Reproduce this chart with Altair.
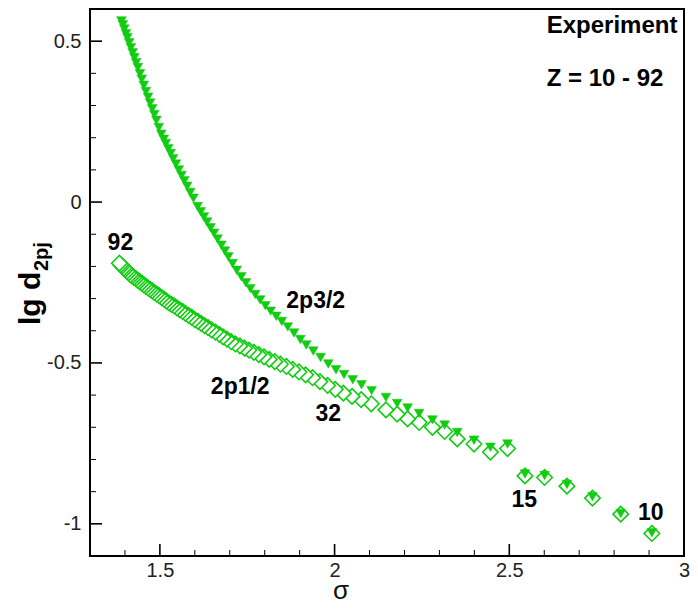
import altair as alt
import pandas as pd

# ---- data (Z = 10 ... 92) ----
sigma_2p12 = [2.908, 2.819, 2.738, 2.665, 2.601, 2.545, 2.495, 2.446, 2.399, 2.351,
              2.315, 2.280, 2.242, 2.209, 2.179, 2.147, 2.105, 2.076, 2.050, 2.025,
              2.002, 1.980, 1.958, 1.937, 1.917, 1.898, 1.880, 1.862, 1.845, 1.829,
              1.813, 1.798, 1.783, 1.769, 1.755, 1.742, 1.729, 1.716, 1.704, 1.692,
              1.681, 1.670, 1.659, 1.648, 1.638, 1.628, 1.618, 1.609, 1.600, 1.591,
              1.582, 1.573, 1.565, 1.557, 1.549, 1.541, 1.533, 1.526, 1.519, 1.512,
              1.505, 1.498, 1.491, 1.484, 1.478, 1.472, 1.466, 1.460, 1.454, 1.448,
              1.442, 1.437, 1.431, 1.426, 1.421, 1.416, 1.411, 1.406, 1.401, 1.397,
              1.392, 1.388, 1.384]
lgd_2p12 = [-1.030, -0.970, -0.920, -0.883, -0.856, -0.851, -0.766, -0.777, -0.752, -0.736,
            -0.713, -0.700, -0.685, -0.674, -0.659, -0.646, -0.627, -0.614, -0.604, -0.594,
            -0.582, -0.570, -0.558, -0.546, -0.537, -0.528, -0.520, -0.511, -0.504, -0.496,
            -0.489, -0.481, -0.474, -0.467, -0.460, -0.454, -0.447, -0.441, -0.434, -0.426,
            -0.419, -0.411, -0.404, -0.397, -0.390, -0.384, -0.377, -0.371, -0.365, -0.358,
            -0.352, -0.346, -0.340, -0.335, -0.329, -0.323, -0.318, -0.313, -0.308, -0.302,
            -0.297, -0.291, -0.286, -0.281, -0.276, -0.271, -0.267, -0.262, -0.257, -0.252,
            -0.247, -0.243, -0.238, -0.234, -0.230, -0.226, -0.220, -0.215, -0.209, -0.205,
            -0.199, -0.195, -0.190]

sigma_2p32 = [2.908, 2.819, 2.738, 2.665, 2.601, 2.545, 2.495, 2.446, 2.399, 2.351,
              2.315, 2.280, 2.242, 2.209, 2.179, 2.147, 2.106, 2.077, 2.052, 2.027,
              2.004, 1.982, 1.960, 1.939, 1.919, 1.902, 1.884, 1.866, 1.849, 1.833,
              1.817, 1.802, 1.787, 1.773, 1.759, 1.746, 1.733, 1.720, 1.708, 1.696,
              1.686, 1.676, 1.665, 1.655, 1.645, 1.635, 1.626, 1.617, 1.608, 1.596,
              1.587, 1.578, 1.570, 1.562, 1.554, 1.546, 1.538, 1.531, 1.524, 1.517,
              1.511, 1.504, 1.497, 1.490, 1.484, 1.478, 1.472, 1.466, 1.460, 1.454,
              1.448, 1.443, 1.437, 1.432, 1.427, 1.422, 1.417, 1.412, 1.407, 1.403,
              1.398, 1.394, 1.390]
lgd_2p32 = [-1.028, -0.968, -0.916, -0.878, -0.850, -0.845, -0.752, -0.762, -0.740, -0.716,
            -0.693, -0.677, -0.657, -0.640, -0.626, -0.607, -0.586, -0.568, -0.552, -0.536,
            -0.521, -0.503, -0.483, -0.463, -0.444, -0.427, -0.407, -0.388, -0.371, -0.355,
            -0.339, -0.322, -0.304, -0.287, -0.269, -0.251, -0.232, -0.212, -0.191, -0.170,
            -0.152, -0.134, -0.115, -0.097, -0.080, -0.062, -0.046, -0.030, -0.014, 0.012,
            0.030, 0.049, 0.066, 0.083, 0.100, 0.118, 0.135, 0.151, 0.166, 0.182,
            0.195, 0.211, 0.232, 0.254, 0.272, 0.290, 0.308, 0.326, 0.344, 0.363,
            0.382, 0.399, 0.418, 0.433, 0.449, 0.464, 0.480, 0.495, 0.511, 0.523,
            0.538, 0.551, 0.563]

# annotations (text, sigma, lg)
ann_text = ["92", "2p3/2", "2p1/2", "32", "15", "10"]
ann_sigma = [1.387, 1.946, 1.730, 1.982, 2.543, 2.905]
ann_lg = [-0.128, -0.307, -0.574, -0.659, -0.925, -0.965]

corner_text = ["Experiment", "Z = 10 - 92"]
corner_sigma = [2.607, 2.607]
corner_lg = [0.548, 0.383]

x_major = [1.5, 2.0, 2.5, 3.0]
x_minor = [1.4, 1.6, 1.7, 1.8, 1.9, 2.1, 2.2, 2.3, 2.4, 2.6, 2.7, 2.8, 2.9]
y_major = [-1.0, -0.5, 0.0, 0.5]
y_minor = [-0.9, -0.8, -0.7, -0.6, -0.4, -0.3, -0.2, -0.1, 0.1, 0.2, 0.3, 0.4]

W, H = 594, 547
GREEN = "#11cc11"
FONT = "Liberation Sans"

xs = alt.Scale(domain=[1.3, 3.0], nice=False, zero=False)
ys = alt.Scale(domain=[-1.1, 0.6], nice=False, zero=False)

d12 = pd.DataFrame({"s": sigma_2p12, "lg": lgd_2p12})
d32 = pd.DataFrame({"s": sigma_2p32, "lg": lgd_2p32})
ann = pd.DataFrame({"t": ann_text, "s": ann_sigma, "lg": ann_lg})
corner = pd.DataFrame({"t": corner_text, "s": corner_sigma, "lg": corner_lg})

xaxis = alt.Axis(values=x_major, ticks=False, domain=False, grid=False,
                 labelFont=FONT, labelFontSize=20, labelColor="#222",
                 labelPadding=4, labelFlush=False, labelOverlap=False,
                 labelExpr="'' + datum.value", title=None)
yaxis = alt.Axis(values=y_major, ticks=False, domain=False, grid=False,
                 labelFont=FONT, labelFontSize=20, labelColor="#222",
                 labelPadding=9, labelFlush=False, labelOverlap=False,
                 labelExpr="'' + datum.value", title=None)


def X(field):
    return alt.X(field, type="quantitative", scale=xs, axis=xaxis)


def Y(field):
    return alt.Y(field, type="quantitative", scale=ys, axis=yaxis)


diamonds = alt.Chart(d12).mark_point(
    shape="diamond", size=240, filled=True, fill="white", stroke=GREEN,
    strokeWidth=1.6, opacity=1
).encode(x=X("s"), y=Y("lg"))

triangles = alt.Chart(d32).mark_point(
    shape="triangle-down", size=95, filled=True, fill=GREEN, stroke=GREEN,
    strokeWidth=0.5, opacity=1
).encode(x=X("s"), y=Y("lg"))

labels = alt.Chart(ann).mark_text(
    font=FONT, fontSize=23, fontWeight="bold", color="black",
    align="center", baseline="middle"
).encode(x=X("s"), y=Y("lg"), text="t:N")

corner_labels = alt.Chart(corner).mark_text(
    font=FONT, fontSize=24, fontWeight="bold", color="black",
    align="left", baseline="middle"
).encode(x=X("s"), y=Y("lg"), text="t:N")


def xticks(vals, length):
    return alt.Chart(pd.DataFrame({"s": vals})).mark_rule(
        color="black", strokeWidth=1.6 if length > 8 else 1
    ).encode(x=X("s"), y=alt.value(H), y2=alt.value(H - length))


def yticks(vals, length):
    return alt.Chart(pd.DataFrame({"lg": vals})).mark_rule(
        color="black", strokeWidth=1.6 if length > 8 else 1
    ).encode(y=Y("lg"), x=alt.value(0), x2=alt.value(length))


ytitle_main = alt.Chart(pd.DataFrame({"t": ["lg d"]})).mark_text(
    font=FONT, fontSize=30, fontWeight="bold", color="black",
    angle=270, align="left", baseline="alphabetic"
).encode(text="t:N", x=alt.value(-50), y=alt.value(316))

ytitle_sub = alt.Chart(pd.DataFrame({"t": ["2pj"]})).mark_text(
    font=FONT, fontSize=20, fontWeight="bold", color="black",
    angle=270, align="left", baseline="alphabetic"
).encode(text="t:N", x=alt.value(-42), y=alt.value(262))

xtitle = alt.Chart(pd.DataFrame({"t": ["σ"]})).mark_text(
    font=FONT, fontSize=26, color="#111",
    align="center", baseline="alphabetic"
).encode(text="t:N", x=alt.value(251), y=alt.value(H + 43))

chart = alt.layer(
    diamonds, triangles,
    xticks([v for v in x_major if v < 3.0], 12), xticks(x_minor, 6),
    yticks(y_major, 12), yticks(y_minor, 6),
    labels, corner_labels, ytitle_main, ytitle_sub, xtitle,
).properties(
    width=W, height=H, background="white",
    autosize=alt.AutoSizeParams(type="none"),
    padding={"left": 82, "top": 1, "right": 6, "bottom": 48},
).configure_view(
    stroke="black", strokeWidth=2
)

chart.save("out.html", embed_options={"renderer": "svg", "actions": False})
